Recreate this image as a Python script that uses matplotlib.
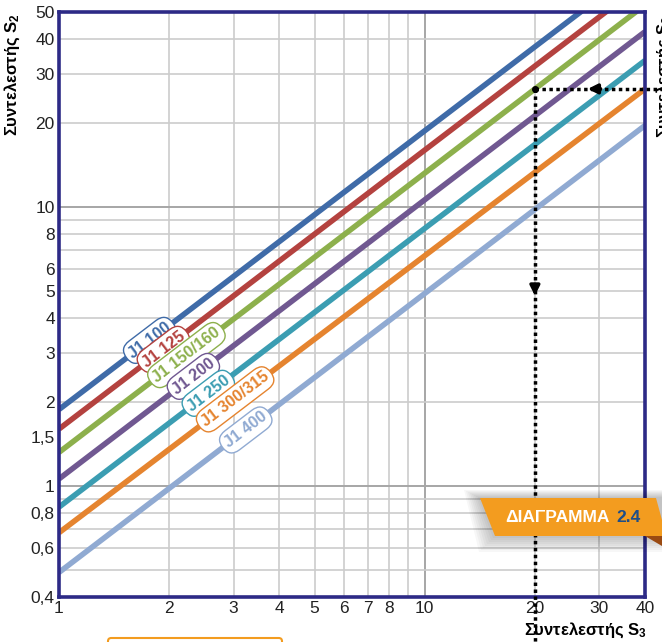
import numpy as np
import matplotlib.pyplot as plt
from matplotlib.patches import Polygon, FancyBboxPatch

plt.rcParams['font.family'] = ['Liberation Sans', 'DejaVu Sans']
plt.rcParams['mathtext.fontset'] = 'custom'
plt.rcParams['mathtext.rm'] = 'Liberation Sans'

# Συντελεστής S3 στα άκρα του άξονα και S2 διαβασμένο σε αυτά τα άκρα
s3_ends = [1, 40]
names = ['J1 100', 'J1 125', 'J1 150/160', 'J1 200', 'J1 250', 'J1 300/315', 'J1 400']
s2_at_1 = [1.88, 1.60, 1.32, 1.06, 0.84, 0.68, 0.49]
s2_at_40 = [75.0, 64.0, 53.0, 42.5, 33.5, 26.5, 19.6]
colors = ['#3F6BA8', '#B4423F', '#8DB04C', '#705891', '#3B9DB2', '#E5842F', '#90AAD2']
label_s3 = [1.77, 1.93, 2.23, 2.33, 2.56, 3.03, 3.24]

x_ticks = [1, 2, 3, 4, 5, 6, 7, 8, 10, 20, 30, 40]
y_ticks = [0.4, 0.6, 0.8, 1, 1.5, 2, 3, 4, 5, 6, 8, 10, 20, 30, 40, 50]
y_tick_labels = ['0,4', '0,6', '0,8', '1', '1,5', '2', '3', '4', '5', '6', '8',
                 '10', '20', '30', '40', '50']

# παράδειγμα ανάγνωσης
ex_s3 = 20
ex_s2 = 26.5

W, H = 662, 642
fig = plt.figure(figsize=(W / 100, H / 100), dpi=100)
ax = fig.add_axes([59 / W, 1 - 597 / H, (645 - 59) / W, (597 - 12) / H])
ax.set_xscale('log')
ax.set_yscale('log')
ax.set_xlim(1, 40)
ax.set_ylim(0.4, 50)

# πλέγμα
for v in [2, 3, 4, 5, 6, 7, 8, 9, 20, 30]:
    ax.axvline(v, color='#CCCCCC', lw=1.2, zorder=0)
ax.axvline(10, color='#A6A6A6', lw=1.4, zorder=0)
for v in [0.5, 0.6, 0.7, 0.8, 0.9, 2, 3, 4, 5, 6, 7, 8, 9, 20, 30, 40]:
    ax.axhline(v, color='#CCCCCC', lw=1.2, zorder=0)
for v in [1, 10]:
    ax.axhline(v, color='#A6A6A6', lw=1.4, zorder=0)

# καμπύλες
for name, a, b, c in zip(names, s2_at_1, s2_at_40, colors):
    ax.plot(s3_ends, [a, b], color=c, lw=4, solid_capstyle='butt', zorder=2)

# ετικέτες πάνω στις καμπύλες
xdec = ax.get_position().width * W / np.log10(40)
ydec = ax.get_position().height * H / np.log10(50 / 0.4)
angle = np.degrees(np.arctan2(ydec, xdec))
for name, a, b, c, lx in zip(names, s2_at_1, s2_at_40, colors, label_s3):
    slope = np.log10(b / a) / np.log10(40)
    ly = a * lx ** slope
    ax.text(lx, ly, name, rotation=angle, rotation_mode='anchor',
            ha='center', va='center', color=c, fontsize=11.5, fontweight='bold',
            zorder=4,
            bbox=dict(boxstyle='round,pad=0.28,rounding_size=0.75', fc='white',
                      ec=c, lw=1))

# διακεκομμένες γραμμές ανάγνωσης
ax.plot([ex_s3, 50], [ex_s2, ex_s2], color='black', lw=2.5,
        linestyle=(0, (1, 1)), clip_on=False, zorder=5)
ax.plot([ex_s3, ex_s3], [ex_s2, 0.25], color='black', lw=2.5,
        linestyle=(0, (1, 1)), clip_on=False, zorder=5)
ax.plot([ex_s3], [ex_s2], 'o', color='black', ms=4, zorder=6)
ax.annotate('', xy=(27.4, ex_s2), xytext=(30.8, ex_s2),
            arrowprops=dict(arrowstyle='-|>', color='black', lw=2.5,
                            mutation_scale=14), zorder=6)
ax.annotate('', xy=(ex_s3, 4.7), xytext=(ex_s3, 5.4),
            arrowprops=dict(arrowstyle='-|>', color='black', lw=2.5,
                            mutation_scale=14), zorder=6)

ax.set_xticks(x_ticks)
ax.set_xticklabels([str(v) for v in x_ticks])
ax.set_yticks(y_ticks)
ax.set_yticklabels(y_tick_labels)
ax.minorticks_off()
ax.tick_params(length=0, labelsize=12.5, colors='#222222', pad=3)
for s in ax.spines.values():
    s.set_color('#2D2A86')
    s.set_linewidth(2.6)

fig.text(12 / W, 1 - 75 / H, 'Συντελεστής $\\mathregular{S_2}$', rotation=90,
         ha='center', va='center', fontsize=12, fontweight='bold')
fig.text(585 / W, 1 - 630 / H, 'Συντελεστής $\\mathregular{S_3}$',
         ha='center', va='center', fontsize=12, fontweight='bold')
fig.text(664 / W, 1 - 77 / H, 'Συντελεστής $\\mathregular{S_2}$', rotation=90,
         ha='center', va='center', fontsize=12, fontweight='bold')


def px(x, y):
    return (x / W, 1 - y / H)


# σκιά και ταμπέλα
for i in range(8):
    d = 2 + i * 2
    shadow = Polygon([px(480 - d, 498 - d / 2), px(662, 498 - d / 2),
                      px(662, 536 + d), px(495 - d, 536 + d)],
                     closed=True, fc='black', ec='none', alpha=0.03,
                     transform=fig.transFigure)
    fig.patches.append(shadow)
fold = Polygon([px(645, 536), px(662, 536), px(662, 546)], closed=True,
               fc='#9A4A12', ec='none', transform=fig.transFigure)
fig.patches.append(fold)
banner = Polygon([px(480, 498), px(656, 498), px(662, 520), px(662, 536),
                  px(495, 536)],
                 closed=True, fc='#F39C1F', ec='none', transform=fig.transFigure)
fig.patches.append(banner)
title = fig.text(505 / W, 1 - 518 / H, 'ΔΙΑΓΡΑΜΜΑ', ha='left', va='center',
                 color='white', fontsize=12.5, fontweight='bold')
fig.text(616 / W, 1 - 518 / H, '2.4', ha='left', va='center',
         color='#1D4E89', fontsize=12.5, fontweight='bold')

# κάτω πλαίσιο (κομμένο)
box = FancyBboxPatch(px(108, 660), 174 / W, 22 / H,
                     boxstyle='round,pad=0,rounding_size=0.005',
                     fc='none', ec='#F39C1F', lw=1.5, transform=fig.transFigure)
fig.patches.append(box)

fig.savefig('out.png', dpi=100)
